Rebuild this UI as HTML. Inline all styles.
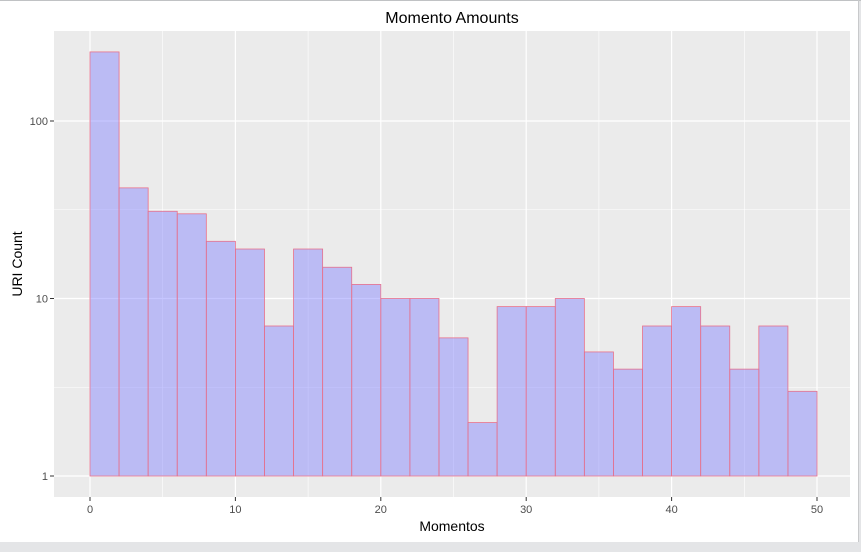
<!DOCTYPE html>
<html><head><meta charset="utf-8"><style>
body{margin:0;background:#e4e5e7;}
svg{display:block;font-family:"Liberation Sans",sans-serif;}
</style></head><body>
<svg id="c" width="861" height="552">
<rect x="0" y="0" width="859" height="542" fill="#fff"/>
<line x1="0" y1="0.5" x2="861" y2="0.5" stroke="#c0c2c4"/>
<line x1="858.5" y1="0" x2="858.5" y2="542" stroke="#c8c9cb"/>
<rect x="54" y="31" width="796" height="466" fill="#ebebeb"/>
<g id="grid"></g><g id="bars"></g><g id="axes"></g>
<text x="452" y="23" font-size="16" text-anchor="middle" fill="#000">Momento Amounts</text>
<text x="452" y="531" font-size="14" text-anchor="middle" fill="#000">Momentos</text>
<text x="22" y="264" font-size="14" text-anchor="middle" fill="#000" transform="rotate(-90 22 264)">URI Count</text>
</svg>
<script>
const binStarts=[0,2,4,6,8,10,12,14,16,18,20,22,24,26,28,30,32,34,36,38,40,42,44,46,48];
const counts=[245,42,31,30,21,19,7,19,15,12,10,10,6,2,9,9,10,5,4,7,9,7,4,7,3];
const binWidth=2;
const xTicks=[0,10,20,30,40,50];
const yTicks=[1,10,100];
const NS="http://www.w3.org/2000/svg";
const x=v=>90+v*(817-90)/50;
const y=v=>476-Math.log10(v)*177.5;
function mk(t,a,p){const e=document.createElementNS(NS,t);for(const k in a)e.setAttribute(k,a[k]);p.appendChild(e);return e;}
const g=document.getElementById('grid'),b=document.getElementById('bars'),ax=document.getElementById('axes');
[5,15,25,35,45].forEach(v=>{const l=mk('line',{x1:x(v),x2:x(v),y1:31,y2:497,stroke:'#fff','stroke-width':0.6},g);

});
[Math.sqrt(10),Math.sqrt(1000)].forEach(v=>{const l=mk('line',{x1:54,x2:850,y1:y(v),y2:y(v),stroke:'#fff','stroke-width':0.6},g);

});
xTicks.forEach(v=>{const l=mk('line',{x1:x(v),x2:x(v),y1:31,y2:497,stroke:'#fff','stroke-width':1.2},g);


const t=mk('line',{x1:x(v),x2:x(v),y1:497,y2:501,stroke:'#333'},ax);


const tx=mk('text',{x:x(v),y:513,'font-size':11,'text-anchor':'middle',fill:'#4d4d4d'},ax);tx.textContent=v;

});
yTicks.forEach(v=>{const l=mk('line',{x1:54,x2:850,y1:y(v),y2:y(v),stroke:'#fff','stroke-width':1.2},g);


const t=mk('line',{x1:50,x2:54,y1:y(v),y2:y(v),stroke:'#333'},ax);


const tx=mk('text',{x:48,y:y(v)+4,'font-size':11,'text-anchor':'end',fill:'#4d4d4d'},ax);tx.textContent=v;

});
binStarts.forEach((s,i)=>{const r=mk('rect',{x:x(s),y:y(counts[i]),width:x(s+binWidth)-x(s),height:y(1)-y(counts[i]),fill:'rgba(128,128,255,0.45)',stroke:'#e8708a','stroke-width':0.8},b);

});
</script>
</body></html>
